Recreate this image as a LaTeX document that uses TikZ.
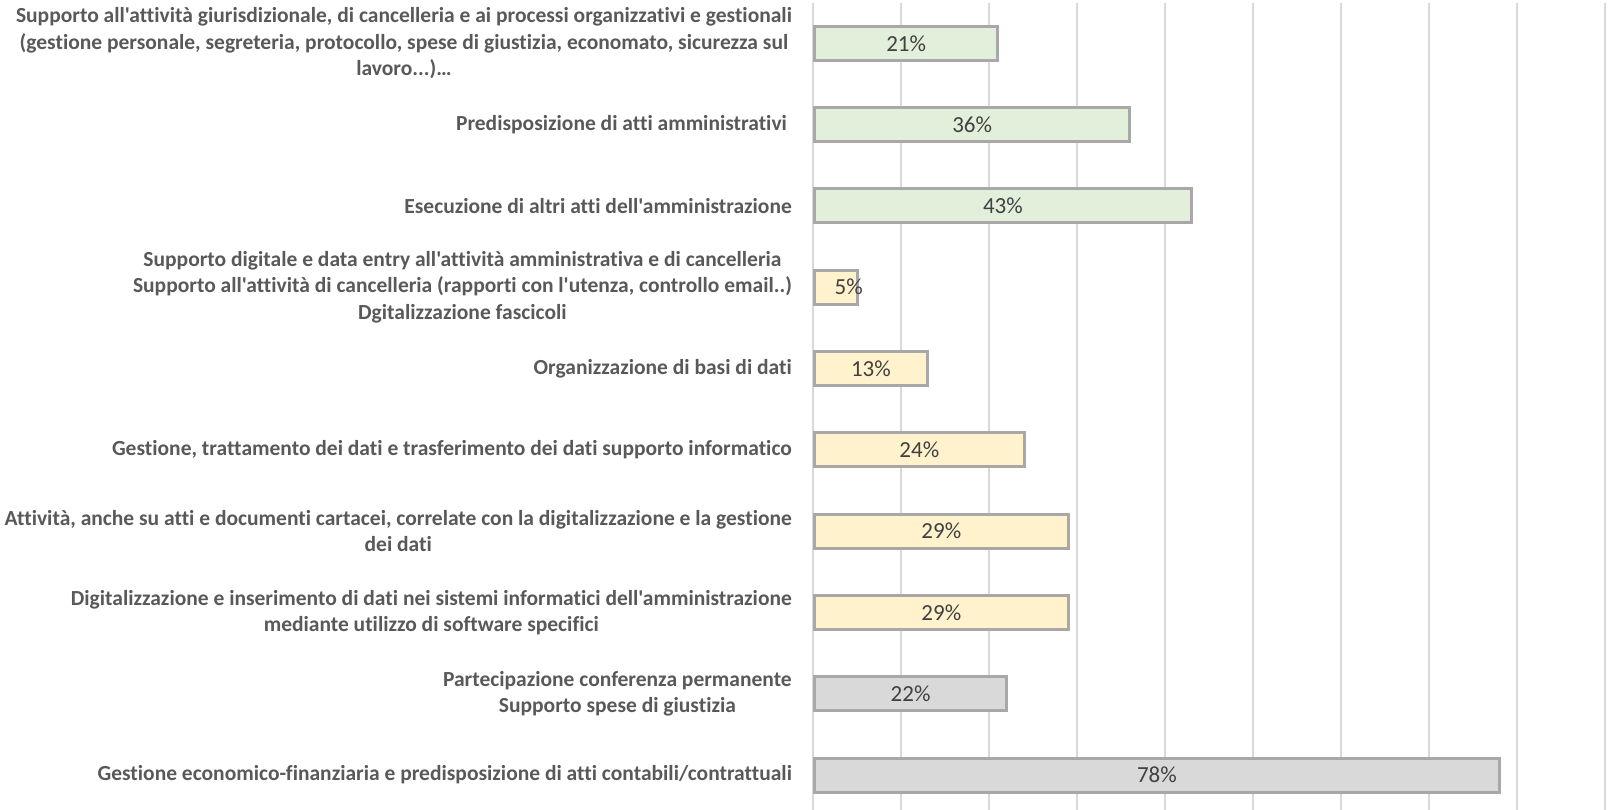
\documentclass[tikz,border=0pt]{standalone}
\usepackage{fontspec}
\setmainfont{Carlito}[Ligatures={TeXOff,NoCommon}]
\definecolor{gridc}{HTML}{D9D9D9}
\definecolor{barline}{HTML}{A9A7A7}
\definecolor{greenf}{HTML}{E2EFDA}
\definecolor{yellowf}{HTML}{FFF2CC}
\definecolor{grayf}{HTML}{D9D9D9}
\definecolor{labc}{HTML}{595959}
\definecolor{valc}{HTML}{404040}
\tikzset{
  gridline/.style={draw=gridc, line width=1.5pt},
  bar/.style={draw=barline, line width=3pt, rectangle, inner sep=0pt, minimum height=34pt, anchor=west},
  catlabel/.style={anchor=east, align=center, inner sep=0pt, text=labc, font=\fontsize{21.5}{26.5}\selectfont\bfseries},
  vallabel/.style={text=valc, font=\fontsize{23}{27}\selectfont, inner sep=0pt},
}
\begin{document}
\begin{tikzpicture}[x=1pt,y=-1pt]
\useasboundingbox[fill=white] (0,0) rectangle (1611,810);
% grid
\foreach \k in {0,...,9}{
  \coordinate (gt\k) at ({813+88*\k},3);
  \coordinate (gb\k) at ({813+88*\k},810);
  \draw[gridline] (gt\k) -- (gb\k);
}
% bars
\node[bar, fill=greenf,  minimum width={8.8*21-1.5}] (bar1)  at (813, 43.3) {};
\node[bar, fill=greenf,  minimum width={8.8*36-1.5}] (bar2)  at (813, 124.6) {};
\node[bar, fill=greenf,  minimum width={8.8*43-1.5}] (bar3)  at (813, 205.9) {};
\node[bar, fill=yellowf, minimum width={8.8*5-1.5}]  (bar4)  at (813, 287.2) {};
\node[bar, fill=yellowf, minimum width={8.8*13-1.5}] (bar5)  at (813, 368.5) {};
\node[bar, fill=yellowf, minimum width={8.8*24-1.5}] (bar6)  at (813, 449.8) {};
\node[bar, fill=yellowf, minimum width={8.8*29-1.5}] (bar7)  at (813, 531.1) {};
\node[bar, fill=yellowf, minimum width={8.8*29-1.5}] (bar8)  at (813, 612.4) {};
\node[bar, fill=grayf,   minimum width={8.8*22-1.5}] (bar9)  at (813, 693.7) {};
\node[bar, fill=grayf,   minimum width={8.8*78-1.5}] (bar10) at (813, 775.0) {};
% values
\node[vallabel] (val1)  at (bar1.center)  {21\%};
\node[vallabel] (val2)  at (bar2.center)  {36\%};
\node[vallabel] (val3)  at (bar3.center)  {43\%};
\node[vallabel, xshift=13pt] (val4) at (bar4.center) {5\%};
\node[vallabel] (val5)  at (bar5.center)  {13\%};
\node[vallabel] (val6)  at (bar6.center)  {24\%};
\node[vallabel] (val7)  at (bar7.center)  {29\%};
\node[vallabel] (val8)  at (bar8.center)  {29\%};
\node[vallabel] (val9)  at (bar9.center)  {22\%};
\node[vallabel] (val10) at (bar10.center) {78\%};
% category labels
\node[catlabel] (lab1) at (792, 43.3) {Supporto all'attività giurisdizionale, di cancelleria e ai processi organizzativi e gestionali\\(gestione personale, segreteria, protocollo, spese di giustizia, economato, sicurezza sul\\lavoro...)…};
\node[catlabel] (lab2) at (792, 124.6) {Predisposizione di atti amministrativi\kern0.23em};
\node[catlabel] (lab3) at (792, 205.9) {Esecuzione di altri atti dell'amministrazione};
\node[catlabel] (lab4) at (792, 287.2) {Supporto digitale e data entry all'attività amministrativa e di cancelleria\\Supporto all'attività di cancelleria (rapporti con l'utenza, controllo email..)\\Dgitalizzazione fascicoli};
\node[catlabel] (lab5) at (792, 368.5) {Organizzazione di basi di dati};
\node[catlabel] (lab6) at (792, 449.8) {Gestione, trattamento dei dati e trasferimento dei dati supporto informatico};
\node[catlabel] (lab7) at (792, 531.1) {Attività, anche su atti e documenti cartacei, correlate con la digitalizzazione e la gestione\\dei dati};
\node[catlabel] (lab8) at (792, 612.4) {Digitalizzazione e inserimento di dati nei sistemi informatici dell'amministrazione\\mediante utilizzo di software specifici};
\node[catlabel] (lab9) at (792, 693.7) {Partecipazione conferenza permanente\\Supporto spese di giustizia};
\node[catlabel] (lab10) at (792, 775.0) {Gestione economico-finanziaria e predisposizione di atti contabili/contrattuali};
\end{tikzpicture}
\end{document}
